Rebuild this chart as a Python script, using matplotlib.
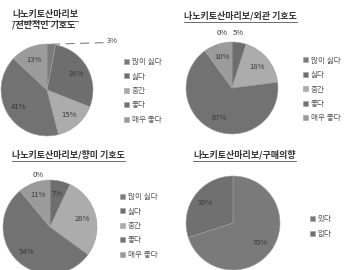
import matplotlib
matplotlib.use("Agg")
import matplotlib.pyplot as plt
from matplotlib.lines import Line2D
import numpy as np

plt.rcParams['font.family'] = ['Noto Sans CJK KR', 'DejaVu Sans']

# data
labels5 = ['많이 싫다', '싫다', '중간', '좋다', '매우 좋다']
overall = [3, 28, 15, 41, 13]
appearance = [0, 5, 18, 67, 10]
flavor = [0, 7, 28, 54, 11]
labels2 = ['있다', '없다']
purchase = [70, 30]

colors5 = ['#7b7b7b', '#6e6e6e', '#acacac', '#727272', '#9b9b9b']
colors2 = ['#7a7a7a', '#707070']

W, H = 344, 270
fig = plt.figure(figsize=(W / 100, H / 100), dpi=100)
fig.patch.set_facecolor('white')


def fx(x):
    return x / W


def fy(y):
    return 1 - y / H


def draw_pie(cx, cy, r, vals, cols, labels, leg_x, leg_y, overrides=None):
    ax = fig.add_axes([(cx - r) / W, (H - cy - r) / H, 2 * r / W, 2 * r / H])
    wedges, _ = ax.pie(vals, colors=cols, startangle=90, counterclock=False,
                       radius=1, wedgeprops=dict(edgecolor='#a0a0a0', linewidth=0.4))
    ax.set_xlim(-1, 1)
    ax.set_ylim(-1, 1)
    ax.set_aspect('equal')
    ax.axis('off')
    overrides = overrides or {}
    for i, (w, v) in enumerate(zip(wedges, vals)):
        th = np.deg2rad((w.theta1 + w.theta2) / 2)
        pos = overrides.get(i, (0.72 * np.cos(th), 0.72 * np.sin(th)))
        ax.text(pos[0], pos[1], f'{v}%', ha='center', va='center',
                fontsize=5.5, color='#3a3a3a', clip_on=False)
    ax.legend(wedges, labels, loc='center left',
              bbox_to_anchor=(fx(leg_x), fy(leg_y)), bbox_transform=fig.transFigure,
              frameon=False, fontsize=5.5, handlelength=0.65, handleheight=0.65,
              handletextpad=0.35, labelspacing=0.85, borderpad=0, borderaxespad=0,
              labelcolor='#555555')
    return ax, wedges


ax1, w1 = draw_pie(47, 90, 46, overall, colors5, labels5, 124, 91,
                   overrides={0: (1.41, 1.07)})
# leader line for the 3% slice
th = np.deg2rad((w1[0].theta1 + w1[0].theta2) / 2)
ax1.plot([np.cos(th), 1.28], [np.sin(th), 1.03], color='#808080', lw=0.8,
         linestyle=(0, (8, 5)), clip_on=False)

draw_pie(232, 88, 46, appearance, colors5, labels5, 303, 89.5,
         overrides={0: (-0.22, 1.2), 1: (0.13, 1.2)})
draw_pie(50, 227, 47, flavor, colors5, labels5, 120, 226,
         overrides={0: (-0.26, 1.1)})
draw_pie(233, 223, 47, purchase, colors2, labels2, 310, 226.5)

# titles
titles = [
    ('나노키토산마리보', 12, 15, True),
    ('/전반적인 기호도', 12, 25, False),
    ('나노키토산마리보/외관 기호도', 184, 16, True),
    ('나노키토산마리보/향미 기호도', 12, 155, True),
    ('나노키토산마리보/구매의향', 193, 155, True),
]
fig.canvas.draw()
renderer = fig.canvas.get_renderer()
for txt, x, y, ul in titles:
    t = fig.text(fx(x), fy(y), txt, ha='left', va='center', fontsize=6.5,
                 fontweight='bold', color='#333333')
    if ul:
        bb = t.get_window_extent(renderer=renderer)
        yl = fy(y + 5.5)
        fig.add_artist(Line2D([bb.x0 / W, bb.x1 / W], [yl, yl], color='#555555', lw=0.6))

fig.savefig('out.png', dpi=100)
